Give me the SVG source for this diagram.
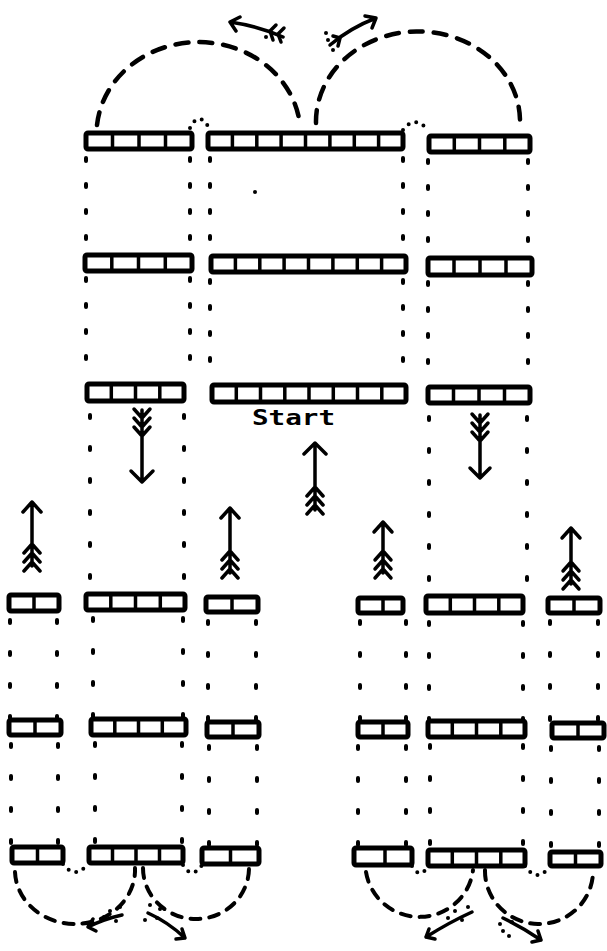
<svg xmlns="http://www.w3.org/2000/svg" width="607" height="951" viewBox="0 0 607 951">
<style>
.bar{fill:#fff;stroke:#000;stroke-width:5;stroke-linejoin:round}
.cell{stroke:#000;stroke-width:3.5}
.dt{fill:none;stroke:#000;stroke-width:4;stroke-linecap:round;stroke-dasharray:3 23}
.dl{fill:none;stroke:#000;stroke-width:4;stroke-linecap:round;stroke-dasharray:3 29}
.ds{fill:none;stroke:#000;stroke-width:4.5;stroke-dasharray:13 11;stroke-linecap:round}
.dsm{fill:none;stroke:#000;stroke-width:4;stroke-dasharray:10 9;stroke-linecap:round}
.dd{fill:none;stroke:#000;stroke-width:4;stroke-linecap:round;stroke-dasharray:0 8}
.ar{fill:none;stroke:#000;stroke-width:3.5;stroke-linecap:round;stroke-linejoin:round}
.lbl{font-family:"DejaVu Sans Mono","Liberation Mono",monospace;font-weight:bold;font-size:22px;fill:#000}
</style>
<rect width="607" height="951" fill="#fff"/>

<g id="connectors">
  <path class="ds" d="M97,125 A102,92 0 0 1 300,125"/>
  <path class="ds" d="M316,123 A102,90 0 0 1 520,120"/>
  <path class="dd" d="M190,128 Q199,110 209,128"/>
  <path class="dd" d="M403,130 Q415,114 429,131"/>
  <path class="dt" d="M86,158 V252 M86,278 V382"/>
  <path class="dt" d="M190,158 V252 M190,278 V382"/>
  <path class="dt" d="M210,158 V254 M210,280 V383"/>
  <path class="dt" d="M403,158 V254 M403,280 V383"/>
  <path class="dt" d="M428,160 V256 M428,282 V385"/>
  <path class="dt" d="M528,160 V256 M528,282 V385"/>
  <path class="dl" d="M90,415 V592 M93,618 V717 M95,743 V845"/>
  <path class="dl" d="M184,415 V592 M183,618 V717 M182,743 V845"/>
  <path class="dl" d="M429,417 V594 M429,622 V719 M430,745 V848"/>
  <path class="dl" d="M527,417 V594 M523,622 V719 M523,745 V848"/>
  <path class="dl" d="M10,620 V718 M11,744 V845"/>
  <path class="dl" d="M57,620 V718 M58,744 V845"/>
  <path class="dl" d="M208,621 V720 M209,746 V846"/>
  <path class="dl" d="M256,621 V720 M257,746 V846"/>
  <path class="dl" d="M360,621 V720 M358,746 V846"/>
  <path class="dl" d="M406,621 V720 M406,746 V846"/>
  <path class="dl" d="M550,621 V721 M551,747 V850"/>
  <path class="dl" d="M598,621 V721 M599,747 V850"/>
  <path class="dd" d="M63,864 Q75,880 88,864"/>
  <path class="dd" d="M183,865 Q192,880 202,865"/>
  <path class="dd" d="M412,866 Q420,880 428,866"/>
  <path class="dd" d="M525,866 Q537,884 550,866"/>
  <path class="dsm" d="M15,872 A60,54 0 0 0 135,868"/>
  <path class="dsm" d="M143,868 A53,51 0 0 0 249,868"/>
  <path class="dsm" d="M366,872 A54,53 0 0 0 473,870"/>
  <path class="dsm" d="M485,870 A54,53 0 0 0 593,872"/>
  <circle cx="255" cy="192" r="2"/>
</g>

<g id="arrows">
  <g id="arrow-top-left">
    <path class="ar" d="M283,37 Q258,26 230,22 M236,31 L230,22 L240,17"/>
    <path class="ar" d="M270,31 L276,25 M270,31 L273,40 M278,34 L284,28 M278,34 L281,42"/>
    <circle cx="266" cy="37" r="2"/>
  </g>
  <g id="arrow-top-right">
    <path class="ar" d="M330,45 Q350,28 376,18 M365,16 L376,18 L372,28"/>
    <path class="ar" d="M340,38 L338,46 M340,38 L333,36"/>
    <circle cx="326" cy="33" r="2"/><circle cx="328" cy="40" r="2"/><circle cx="333" cy="50" r="2"/>
  </g>
  <path id="arrow-down-left" class="ar" d="M142,410 V482 M131,471 L142,482 L153,471 M134,409 L142,418 L150,409 M134,418 L142,427 L150,418 M134,427 L142,436 L150,427"/>
  <path id="arrow-down-right" class="ar" d="M480,415 V478 M470,468 L480,478 L490,468 M472,414 L480,423 L488,414 M472,423 L480,432 L488,423 M472,432 L480,441 L488,432"/>
  <path id="arrow-up-center" class="ar" d="M315,443 V510 M304,454 L315,443 L326,454 M307,496 L315,487 L323,496 M307,505 L315,496 L323,505 M307,514 L315,505 L323,514"/>
  <path id="arrow-up-1" class="ar" d="M32,502 V566 M23,512 L32,502 L41,512 M24,553 L32,544 L40,553 M24,562 L32,553 L40,562 M24,571 L32,562 L40,571"/>
  <path id="arrow-up-2" class="ar" d="M230,508 V573 M221,518 L230,508 L239,518 M222,560 L230,551 L238,560 M222,569 L230,560 L238,569 M222,578 L230,569 L238,578"/>
  <path id="arrow-up-3" class="ar" d="M383,522 V573 M374,532 L383,522 L392,532 M375,560 L383,551 L391,560 M375,569 L383,560 L391,569 M375,578 L383,569 L391,578"/>
  <path id="arrow-up-4" class="ar" d="M571,528 V584 M562,538 L571,528 L580,538 M563,571 L571,562 L579,571 M563,580 L571,571 L579,580 M563,589 L571,580 L579,589"/>
  <g id="arrow-bl-left">
    <path class="ar" d="M122,915 Q104,919 88,927 M96,931 L88,927 L93,919"/>
    <circle cx="110" cy="911" r="2"/><circle cx="116" cy="921" r="2"/><circle cx="104" cy="917" r="2"/><circle cx="120" cy="907" r="2"/>
  </g>
  <g id="arrow-bl-right">
    <path class="ar" d="M148,913 Q168,922 185,938 M176,939 L185,938 L182,929"/>
    <circle cx="150" cy="905" r="2"/><circle cx="157" cy="918" r="2"/><circle cx="145" cy="920" r="2"/><circle cx="160" cy="909" r="2"/>
  </g>
  <g id="arrow-br-left">
    <path class="ar" d="M472,912 Q450,922 426,937 M435,939 L426,937 L429,929"/>
    <circle cx="455" cy="911" r="2"/><circle cx="462" cy="920" r="2"/><circle cx="448" cy="918" r="2"/><circle cx="468" cy="907" r="2"/>
  </g>
  <g id="arrow-br-right">
    <path class="ar" d="M503,918 Q522,927 541,940 M532,942 L541,940 L538,931"/>
    <circle cx="500" cy="924" r="2"/><circle cx="503" cy="931" r="2"/><circle cx="509" cy="936" r="2"/><circle cx="512" cy="922" r="2"/>
  </g>
</g>

<g id="bar-t1"><rect class="bar" x="86" y="133" width="106" height="16" rx="2"/><path class="cell" d="M112.5,133 V149 M139,133 V149 M165.5,133 V149"/></g>
<g id="bar-t2"><rect class="bar" x="208" y="133" width="195" height="16" rx="2"/><path class="cell" d="M232.4,133 V149 M256.8,133 V149 M281.1,133 V149 M305.5,133 V149 M329.9,133 V149 M354.3,133 V149 M378.6,133 V149"/></g>
<g id="bar-t3"><rect class="bar" x="429" y="136" width="101" height="16" rx="2"/><path class="cell" d="M454.3,136 V152 M479.5,136 V152 M504.8,136 V152"/></g>

<g id="bar-m1"><rect class="bar" x="85" y="255" width="107" height="16" rx="2"/><path class="cell" d="M111.8,255 V271 M138.5,255 V271 M165.3,255 V271"/></g>
<g id="bar-m2"><rect class="bar" x="211" y="256" width="195" height="16" rx="2"/><path class="cell" d="M235.4,256 V272 M259.8,256 V272 M284.1,256 V272 M308.5,256 V272 M332.9,256 V272 M357.3,256 V272 M381.6,256 V272"/></g>
<g id="bar-m3"><rect class="bar" x="428" y="258" width="104" height="17" rx="2"/><path class="cell" d="M454,258 V275 M480,258 V275 M506,258 V275"/></g>

<g id="bar-s1"><rect class="bar" x="87" y="384" width="97" height="17" rx="2"/><path class="cell" d="M111.3,384 V401 M135.5,384 V401 M159.8,384 V401"/></g>
<g id="bar-s2"><rect class="bar" x="212" y="385" width="194" height="17" rx="2"/><path class="cell" d="M236.3,385 V402 M260.5,385 V402 M284.8,385 V402 M309,385 V402 M333.3,385 V402 M357.5,385 V402 M381.8,385 V402"/></g>
<g id="bar-s3"><rect class="bar" x="428" y="387" width="102" height="16" rx="2"/><path class="cell" d="M453.5,387 V403 M479,387 V403 M504.5,387 V403"/></g>

<g id="label-start"><text class="lbl" x="252" y="425" textLength="83" lengthAdjust="spacingAndGlyphs">Start</text></g>

<g id="bar-lla1"><rect class="bar" x="9" y="595" width="50" height="16" rx="2"/><path class="cell" d="M34,595 V611"/></g>
<g id="bar-llb1"><rect class="bar" x="86" y="594" width="99" height="16" rx="2"/><path class="cell" d="M110.8,594 V610 M135.5,594 V610 M160.3,594 V610"/></g>
<g id="bar-llc1"><rect class="bar" x="206" y="597" width="52" height="15" rx="2"/><path class="cell" d="M232,597 V612"/></g>
<g id="bar-lla2"><rect class="bar" x="9" y="720" width="52" height="15" rx="2"/><path class="cell" d="M35,720 V735"/></g>
<g id="bar-llb2"><rect class="bar" x="91" y="719" width="95" height="16" rx="2"/><path class="cell" d="M114.8,719 V735 M138.5,719 V735 M162.3,719 V735"/></g>
<g id="bar-llc2"><rect class="bar" x="207" y="722" width="52" height="15" rx="2"/><path class="cell" d="M233,722 V737"/></g>
<g id="bar-lla3"><rect class="bar" x="12" y="847" width="51" height="16" rx="2"/><path class="cell" d="M37.5,847 V863"/></g>
<g id="bar-llb3"><rect class="bar" x="89" y="847" width="94" height="16" rx="2"/><path class="cell" d="M112.5,847 V863 M136,847 V863 M159.5,847 V863"/></g>
<g id="bar-llc3"><rect class="bar" x="202" y="848" width="57" height="16" rx="2"/><path class="cell" d="M230.5,848 V864"/></g>

<g id="bar-lra1"><rect class="bar" x="358" y="598" width="45" height="15" rx="2"/><path class="cell" d="M383,598 V613"/></g>
<g id="bar-lrb1"><rect class="bar" x="426" y="596" width="97" height="17" rx="2"/><path class="cell" d="M450.3,596 V613 M474.5,596 V613 M498.8,596 V613"/></g>
<g id="bar-lrc1"><rect class="bar" x="548" y="598" width="52" height="15" rx="2"/><path class="cell" d="M574,598 V613"/></g>
<g id="bar-lra2"><rect class="bar" x="358" y="722" width="50" height="15" rx="2"/><path class="cell" d="M383,722 V737"/></g>
<g id="bar-lrb2"><rect class="bar" x="428" y="721" width="97" height="16" rx="2"/><path class="cell" d="M452.3,721 V737 M476.5,721 V737 M500.8,721 V737"/></g>
<g id="bar-lrc2"><rect class="bar" x="552" y="723" width="52" height="15" rx="2"/><path class="cell" d="M578,723 V738"/></g>
<g id="bar-lra3"><rect class="bar" x="354" y="848" width="58" height="17" rx="2"/><path class="cell" d="M385,848 V865"/></g>
<g id="bar-lrb3"><rect class="bar" x="428" y="850" width="97" height="16" rx="2"/><path class="cell" d="M452.3,850 V866 M476.5,850 V866 M500.8,850 V866"/></g>
<g id="bar-lrc3"><rect class="bar" x="550" y="852" width="51" height="14" rx="2"/><path class="cell" d="M575.5,852 V866"/></g>
</svg>
